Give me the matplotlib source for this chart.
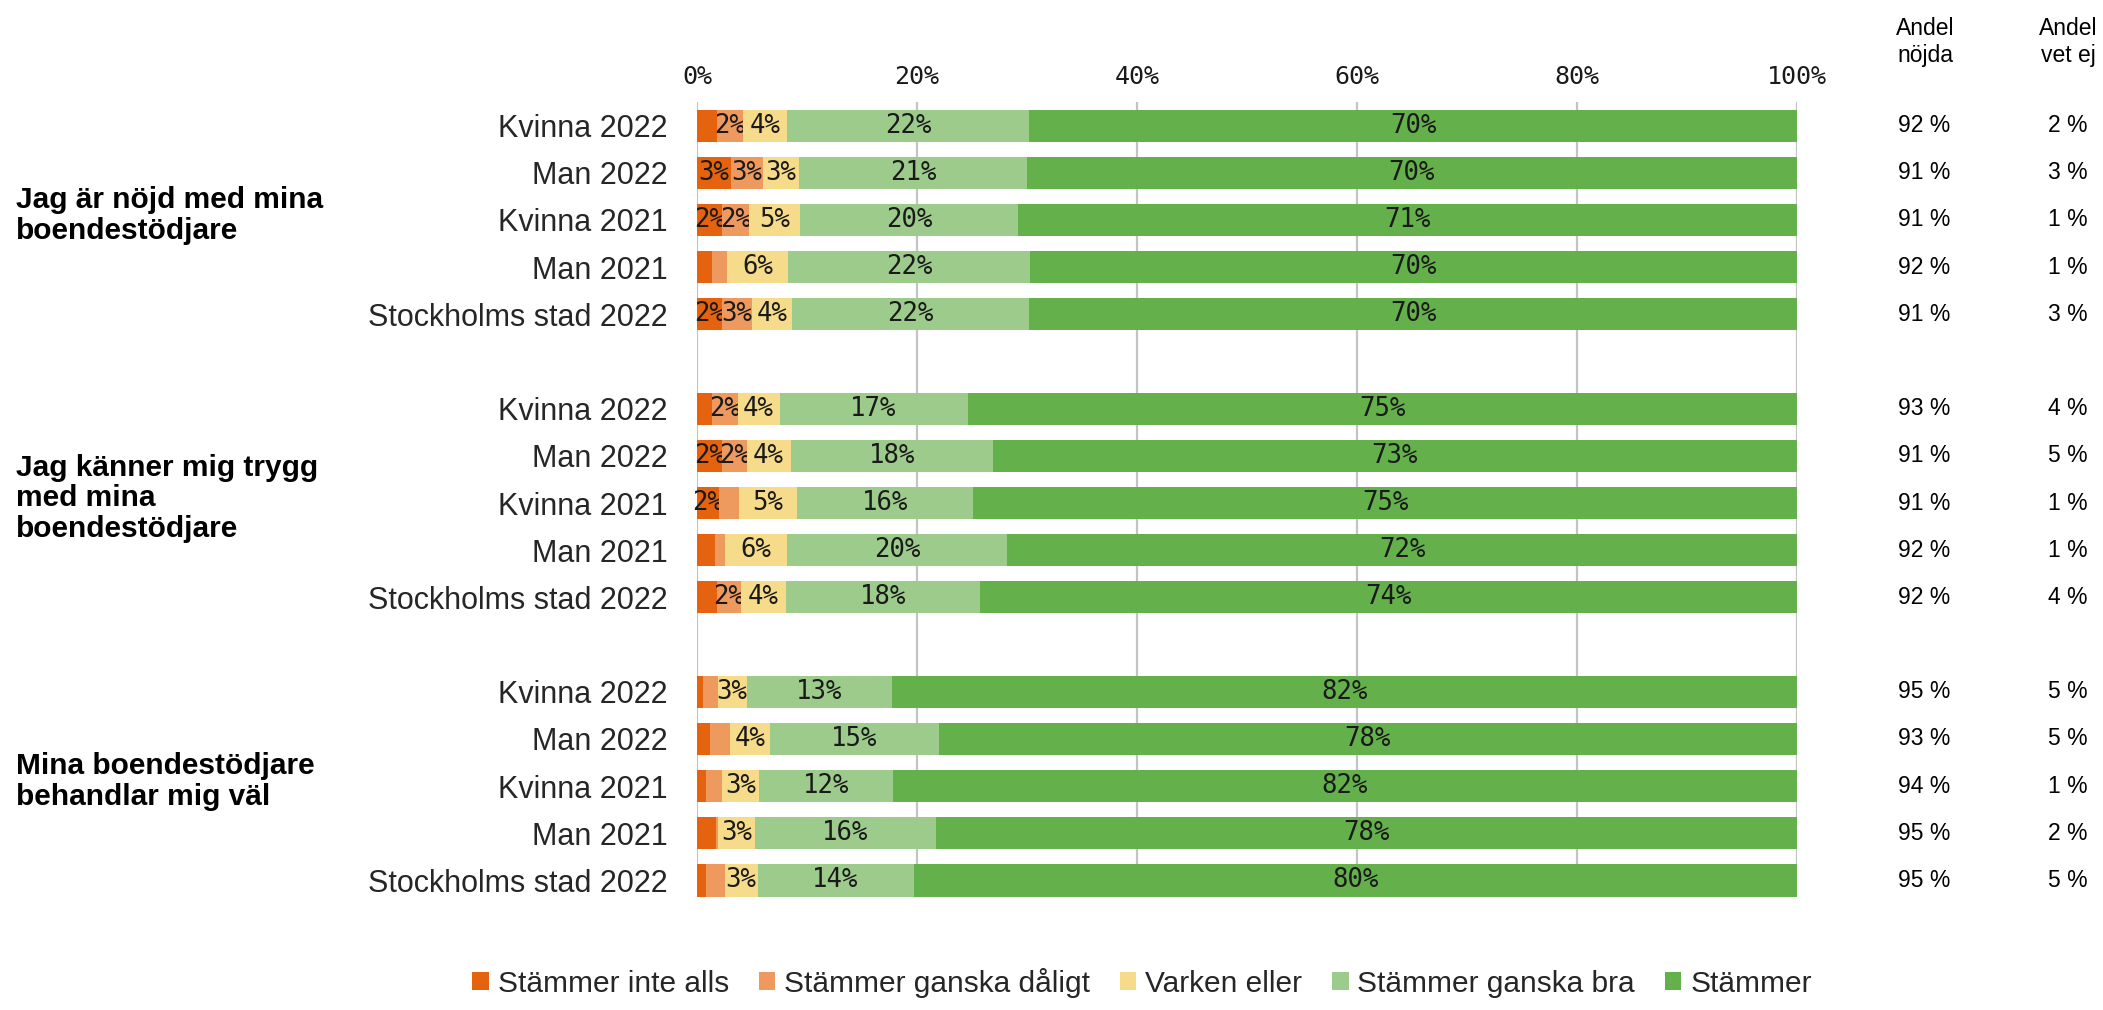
import matplotlib
matplotlib.use("Agg")
import matplotlib.pyplot as plt
from matplotlib.transforms import blended_transform_factory
from matplotlib.patches import Patch

# ---------------- data ----------------
categories = ["Stämmer inte alls", "Stämmer ganska dåligt", "Varken eller",
              "Stämmer ganska bra", "Stämmer"]
colors = ["#E5620F", "#EE9A5F", "#F6DC8A", "#9CCB8C", "#64B14B"]

questions = ["Jag är nöjd med mina\nboendestödjare",
             "Jag känner mig trygg\nmed mina\nboendestödjare",
             "Mina boendestödjare\nbehandlar mig väl"]
groups = ["Kvinna 2022", "Man 2022", "Kvinna 2021", "Man 2021", "Stockholms stad 2022"]

stammer_inte_alls = [1.8, 3.1, 2.3, 1.4, 2.3,
                     1.4, 2.3, 2.0, 1.6, 1.8,
                     0.5, 1.2, 0.8, 1.7, 0.8]
stammer_ganska_daligt = [2.4, 2.9, 2.4, 1.3, 2.7,
                         2.3, 2.2, 1.8, 0.9, 2.2,
                         1.4, 1.8, 1.5, 0.2, 1.7]
varken_eller = [4.0, 3.3, 4.7, 5.6, 3.6,
                3.8, 4.0, 5.3, 5.7, 4.1,
                2.6, 3.6, 3.3, 3.4, 3.0]
stammer_ganska_bra = [22.0, 20.7, 19.8, 22.0, 21.6,
                      17.1, 18.4, 16.0, 20.0, 17.6,
                      13.2, 15.4, 12.2, 16.4, 14.2]
stammer = [69.8, 70.0, 70.8, 69.7, 69.8,
           75.4, 73.1, 74.9, 71.8, 74.3,
           82.3, 78.0, 82.2, 78.3, 80.3]

andel_nojda = [92, 91, 91, 92, 91,
               93, 91, 91, 92, 92,
               95, 93, 94, 95, 95]
andel_vet_ej = [2, 3, 1, 1, 3,
                4, 5, 1, 1, 4,
                5, 5, 1, 2, 5]

x_ticks = [0, 20, 40, 60, 80, 100]
x_tick_labels = ["0%", "20%", "40%", "60%", "80%", "100%"]

series = [stammer_inte_alls, stammer_ganska_daligt, varken_eller,
          stammer_ganska_bra, stammer]

# ---------------- layout ----------------
W, H = 2103, 1010
fig = plt.figure(figsize=(W / 100, H / 100), dpi=100)
ax = fig.add_axes([697 / W, 1 - 897 / H, 1100 / W, 795 / H])

n_q = len(questions)
n_g = len(groups)
positions = []
row_names = []
for qi in range(n_q):
    for gi in range(n_g):
        positions.append(qi * (n_g + 1) + gi)
        row_names.append(groups[gi])

txt_col = "#1a1a1a"
left = [0.0] * len(positions)
for vals, col, name in zip(series, colors, categories):
    cont = ax.barh(positions, vals, left=left, color=col, height=0.68,
                   label=name, zorder=3)
    labels = [f"{v:.0f}%" if v >= 2 else "" for v in vals]
    ax.bar_label(cont, labels=labels, label_type="center",
                 fontsize=18.5, family="DejaVu Sans Mono", color=txt_col)
    left = [l + v for l, v in zip(left, vals)]

ax.set_xlim(0, 100)
ax.set_ylim(positions[-1] + 0.35, -0.5)
ax.xaxis.tick_top()
ax.set_xticks(x_ticks)
ax.set_xticklabels(x_tick_labels, family="DejaVu Sans Mono", fontsize=18,
                   color=txt_col)
ax.tick_params(axis="x", length=0, pad=9)
ax.set_yticks(positions)
ax.set_yticklabels(row_names, family="Liberation Sans", fontsize=22,
                   color="#262626")
ax.tick_params(axis="y", length=0, pad=21)
ax.grid(axis="x", color="#c3c3c3", linewidth=1.6, zorder=0)
ax.set_axisbelow(True)
for s in ax.spines.values():
    s.set_visible(False)

# group titles
trans_left = blended_transform_factory(fig.transFigure, ax.transData)
for qi, q in enumerate(questions):
    mid = positions[qi * n_g + 2]
    ax.text(16 / W, mid - 0.1, q, transform=trans_left, ha="left", va="center",
            fontsize=21.5, fontweight="bold", family="Liberation Sans",
            color="black", linespacing=1.12, clip_on=False)

# right columns
for p, nv, ve in zip(positions, andel_nojda, andel_vet_ej):
    ax.text(1950 / W, p, f"{nv} %", transform=trans_left, ha="right",
            va="center", fontsize=16.5, family="Liberation Sans",
            color="black", clip_on=False)
    ax.text(2088 / W, p, f"{ve} %", transform=trans_left, ha="right",
            va="center", fontsize=16.5, family="Liberation Sans",
            color="black", clip_on=False)
fig.text(1925 / W, 1 - 42 / H, "Andel\nnöjda", ha="center", va="center",
         fontsize=16.5, family="Liberation Sans", linespacing=1.25)
fig.text(2068 / W, 1 - 42 / H, "Andel\nvet ej", ha="center", va="center",
         fontsize=16.5, family="Liberation Sans", linespacing=1.25)

# legend
handles = [Patch(facecolor=c, edgecolor="none") for c in colors]
leg = fig.legend(handles, categories, loc="center", ncol=5, frameon=False,
                 bbox_to_anchor=(1142 / W, 1 - 983 / H),
                 prop={"family": "Liberation Sans", "size": 21.5},
                 handlelength=0.55, handleheight=0.55, handletextpad=0.3,
                 columnspacing=1.0, borderpad=0, borderaxespad=0)
for t in leg.get_texts():
    t.set_color("#262626")

fig.savefig("out.png", dpi=100)
